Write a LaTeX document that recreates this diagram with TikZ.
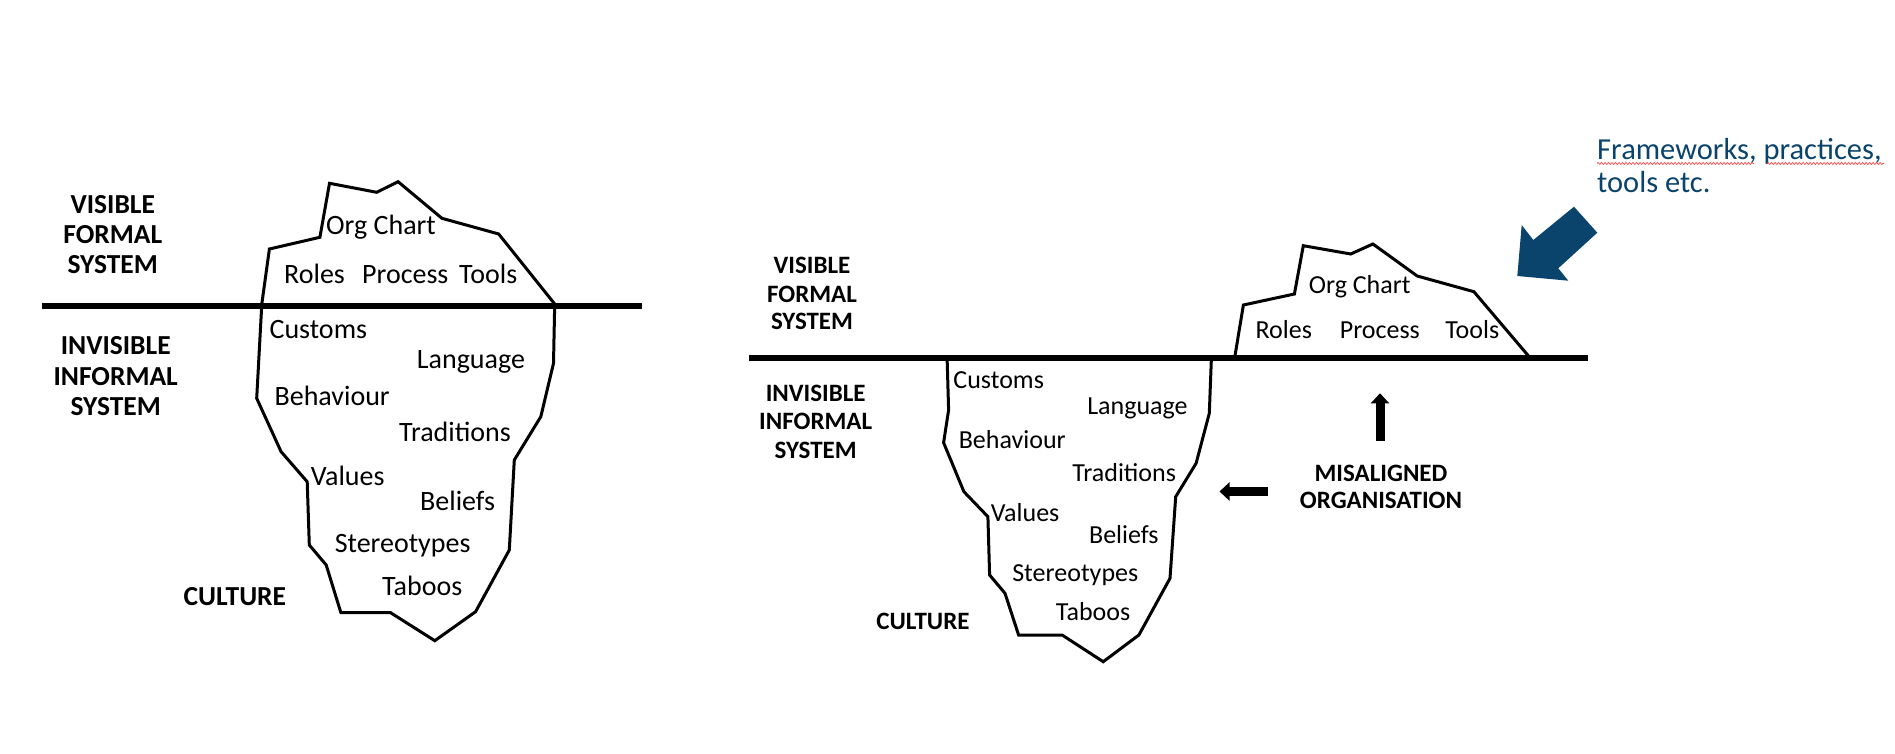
\documentclass[tikz,border=0pt]{standalone}
\usepackage{fontspec}
\setmainfont{Carlito}
\usetikzlibrary{arrows.meta,decorations.pathmorphing}
\definecolor{darkblue}{RGB}{10,68,108}
\begin{document}
\begin{tikzpicture}[x=1pt,y=-1pt,
  berg/.style={line width=3pt,line join=miter,black},
  water/.style={line width=6pt,black},
  wordL/.style={font=\fontsize{28}{30}\selectfont,inner sep=0pt,anchor=base west},
  wordR/.style={font=\fontsize{26}{28}\selectfont,inner sep=0pt,anchor=base west},
  capL/.style={font=\bfseries\fontsize{27.5}{30}\selectfont,inner sep=0pt,anchor=center},
  capR/.style={font=\bfseries\fontsize{25}{28}\selectfont,inner sep=0pt,anchor=center},
  blockarrow/.style={line width=9pt,-{Triangle[length=10pt,width=18pt]}},
  bluetext/.style={font=\fontsize{30.5}{33}\selectfont,inner sep=0pt,anchor=base west,text=darkblue},
  spell/.style={red!75,line width=0.7pt,decorate,decoration={snake,amplitude=0.9pt,segment length=3.5pt}}
]
\useasboundingbox (0,0) rectangle (1895,754);

% ---------------- LEFT ICEBERG ----------------
\draw[berg] (329.5,183.3) -- (376.7,192.3) -- (398.1,181.7) -- (441.9,218.3) -- (498.7,234)
  -- (554.7,304) -- (553.5,363.3) -- (540.8,416.7) -- (514.3,460) -- (509.3,550)
  -- (475.6,611.7) -- (434.8,640.7) -- (390.6,612.7) -- (340.9,612.7) -- (326.2,565)
  -- (309.3,545) -- (307.2,481.7) -- (281.1,451.7) -- (256.7,398.3) -- (261.8,304)
  -- (269.4,249) -- (319.9,237.3) -- cycle;
\coordinate (wl1) at (42,306);
\coordinate (wl2) at (641.8,306);
\draw[water] (wl1) -- (wl2);

\node[capL] (lv1) at (112.8,205) {VISIBLE};
\node[capL] (lv2) at (112.8,235) {FORMAL};
\node[capL] (lv3) at (112.8,265) {SYSTEM};
\node[capL] (li1) at (115.7,346) {INVISIBLE};
\node[capL] (li2) at (115.7,376.7) {INFORMAL};
\node[capL] (li3) at (115.7,406.7) {SYSTEM};
\node[capL] (lcul) at (234.8,596.7) {CULTURE};

\node[wordL] (lorg) at (326,235) {Org Chart};
\node[wordL] (lrol) at (284,283) {Roles};
\node[wordL] (lpro) at (362,283) {Process};
\node[wordL] (ltoo) at (459,283) {Tools};
\node[wordL] (lcus) at (269.4,338) {Customs};
\node[wordL] (llan) at (416.7,368) {Language};
\node[wordL] (lbeh) at (274.4,405.7) {Behaviour};
\node[wordL] (ltra) at (399,441.7) {Traditions};
\node[wordL] (lval) at (310.6,485.7) {Values};
\node[wordL] (lbel) at (420,510.7) {Beliefs};
\node[wordL] (lste) at (334.6,552.3) {Stereotypes};
\node[wordL] (ltab) at (382,595.7) {Taboos};

% ---------------- RIGHT ICEBERG ----------------
\draw[berg] (947.1,358) -- (948.6,410) -- (943.6,442.7) -- (963.9,491.7) -- (987.9,516.7)
  -- (989.6,575) -- (1005,593.3) -- (1018.6,635) -- (1062.1,635) -- (1103.2,661.7)
  -- (1138.9,635) -- (1170,578.3) -- (1175.7,496.7) -- (1196.1,463.3) -- (1209.3,413.3)
  -- (1211.4,358);
\draw[berg] (1234.6,358) -- (1243.4,305) -- (1294.4,294) -- (1303.3,245.7) -- (1350.7,254)
  -- (1372.9,244) -- (1417.2,276) -- (1473.9,291.7) -- (1530.2,358);
\coordinate (wr1) at (749,358);
\coordinate (wr2) at (1588,358);
\draw[water] (wr1) -- (wr2);

\node[capR] (rv1) at (812,265) {VISIBLE};
\node[capR] (rv2) at (812,294) {FORMAL};
\node[capR] (rv3) at (812,321.7) {SYSTEM};
\node[capR] (ri1) at (815.7,393.3) {INVISIBLE};
\node[capR] (ri2) at (815.7,421.7) {INFORMAL};
\node[capR] (ri3) at (815.7,450) {SYSTEM};
\node[capR] (rcul) at (922.9,621.7) {CULTURE};

\node[wordR] (rorg) at (1308.6,293.5) {Org Chart};
\node[wordR] (rrol) at (1255.4,338) {Roles};
\node[wordR] (rpro) at (1339.6,338) {Process};
\node[wordR] (rtoo) at (1445.1,338) {Tools};
\node[wordR] (rcus) at (953.2,388) {Customs};
\node[wordR] (rlan) at (1087.1,414) {Language};
\node[wordR] (rbeh) at (958.6,448) {Behaviour};
\node[wordR] (rtra) at (1072.1,481) {Traditions};
\node[wordR] (rval) at (990.7,521) {Values};
\node[wordR] (rbel) at (1088.9,543.5) {Beliefs};
\node[wordR] (rste) at (1012.1,581) {Stereotypes};
\node[wordR] (rtab) at (1055.7,620) {Taboos};

% misaligned organisation
\node[capR] (mis1) at (1381,473.3) {MISALIGNED};
\node[capR] (mis2) at (1381,500.7) {ORGANISATION};
\coordinate (upS) at (1380,441);
\coordinate (upE) at (1380,393.3);
\draw[blockarrow] (upS) -- (upE);
\coordinate (lfS) at (1267.6,491.5);
\coordinate (lfE) at (1219.5,491.5);
\draw[blockarrow] (lfS) -- (lfE);

% blue annotation
\node[bluetext] (fw1) at (1597,160) {Frameworks, practices,};
\node[bluetext] (fw2) at (1597,193) {tools etc.};
\draw[spell] (1597,163.5) -- (1754,163.5);
\draw[spell] (1767,163.5) -- (1884,163.5);
\fill[darkblue] (1517.3,276) -- (1568.3,280.7) -- (1558.3,268.3) -- (1597.3,232.7)
  -- (1574,206.7) -- (1533.3,240) -- (1521.7,225) -- cycle;
\end{tikzpicture}
\end{document}
